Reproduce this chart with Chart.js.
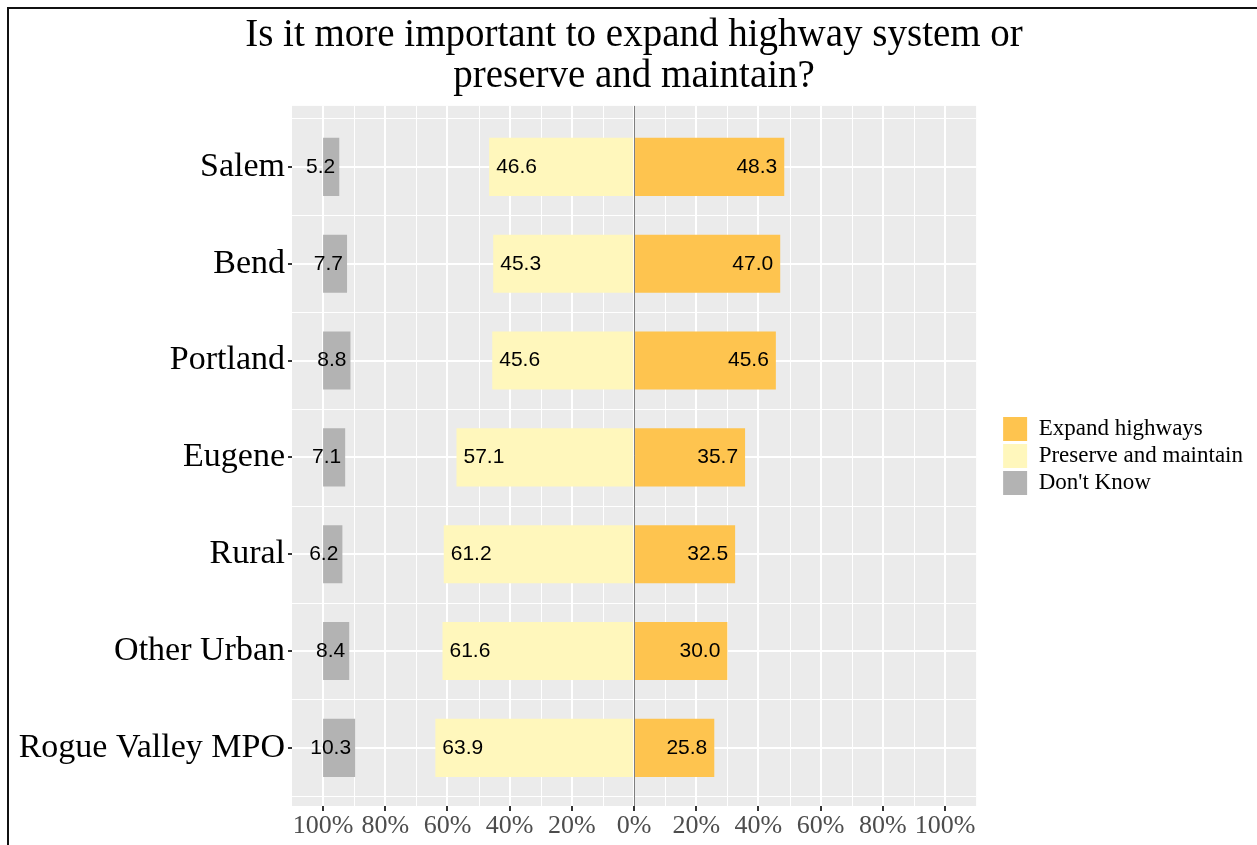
<!DOCTYPE html>
<html>
<head>
<meta charset="utf-8">
<script src="https://cdn.jsdelivr.net/npm/chart.js@4.4.0/dist/chart.umd.min.js"></script>
<style>
  html, body { margin: 0; padding: 0; background: #fff; }
  #wrap { position: relative; width: 1257px; height: 845px; overflow: hidden; }
  #frame { position: absolute; left: 7px; top: 7px; right: -10px; bottom: -10px; border-top: 2px solid #111; border-left: 2px solid #111; pointer-events: none; }
  canvas { position: absolute; left: 0; top: 0; }
</style>
</head>
<body>
<div id="wrap">
  <canvas id="myChart" width="1257" height="845"></canvas>
  <div id="frame"></div>
</div>
<script>
const categories = ["Salem", "Bend", "Portland", "Eugene", "Rural", "Other Urban", "Rogue Valley MPO"];
const expandValues = [48.3, 47.0, 45.6, 35.7, 32.5, 30.0, 25.8];
const preserveValues = [46.6, 45.3, 45.6, 57.1, 61.2, 61.6, 63.9];
const dontKnowValues = [5.2, 7.7, 8.8, 7.1, 6.2, 8.4, 10.3];
const seriesNames = ["Expand highways", "Preserve and maintain", "Don't Know"];
const xTickValues = [-100, -80, -60, -40, -20, 0, 20, 40, 60, 80, 100];

const serif = "'Liberation Serif', 'Times New Roman', serif";

// panel background, minor grid lines, zero line and bar labels
const panelPlugin = {
  id: "panel",
  beforeDraw(chart) {
    const { ctx, chartArea } = chart;
    const xs = chart.scales.x;
    const ys = chart.scales.y;
    ctx.save();
    ctx.fillStyle = "#EBEBEB";
    ctx.fillRect(chartArea.left, chartArea.top, chartArea.right - chartArea.left, chartArea.bottom - chartArea.top);
    ctx.strokeStyle = "#FFFFFF";
    ctx.lineWidth = 1;
    for (let i = 1; i < xTickValues.length; i++) {
      const x = Math.round(xs.getPixelForValue((xTickValues[i - 1] + xTickValues[i]) / 2)) + 0.5;
      ctx.beginPath();
      ctx.moveTo(x, chartArea.top);
      ctx.lineTo(x, chartArea.bottom);
      ctx.stroke();
    }
    for (let k = 0; k <= categories.length; k++) {
      const y = Math.round(ys.getPixelForValue(k - 0.5)) + 0.5;
      ctx.beginPath();
      ctx.moveTo(chartArea.left, y);
      ctx.lineTo(chartArea.right, y);
      ctx.stroke();
    }
    ctx.restore();
  },
  afterDatasetsDraw(chart) {
    const { ctx, chartArea } = chart;
    const x0 = Math.round(chart.scales.x.getPixelForValue(0)) + 0.5;
    ctx.save();
    ctx.strokeStyle = "#7F7F7F";
    ctx.lineWidth = 1;
    ctx.beginPath();
    ctx.moveTo(x0, chartArea.top);
    ctx.lineTo(x0, chartArea.bottom);
    ctx.stroke();

    ctx.font = "21px 'Liberation Sans', Arial, sans-serif";
    ctx.fillStyle = "#000";
    ctx.textBaseline = "middle";
    chart.getDatasetMeta(0).data.forEach((bar, i) => {
      ctx.textAlign = "right";
      ctx.fillText(expandValues[i].toFixed(1), Math.max(bar.x, bar.base) - 7, bar.y);
    });
    chart.getDatasetMeta(1).data.forEach((bar, i) => {
      ctx.textAlign = "left";
      ctx.fillText(preserveValues[i].toFixed(1), Math.min(bar.x, bar.base) + 7, bar.y);
    });
    chart.getDatasetMeta(2).data.forEach((bar, i) => {
      ctx.textAlign = "right";
      ctx.fillText(dontKnowValues[i].toFixed(1), Math.max(bar.x, bar.base) - 4, bar.y);
    });
    ctx.restore();
  }
};

const data = {
  datasets: [
    {
      label: seriesNames[0],
      data: expandValues.map((v, i) => ({ x: v, y: i })),
      backgroundColor: "#FEC44F",
      yAxisID: "y",
    },
    {
      label: seriesNames[1],
      data: preserveValues.map((v, i) => ({ x: -v, y: i })),
      backgroundColor: "#FFF7BC",
      yAxisID: "y",
    },
    {
      label: seriesNames[2],
      data: dontKnowValues.map((v, i) => ({ x: [-100, -100 + v], y: i })),
      backgroundColor: "#B3B3B3",
      yAxisID: "y",
    },
  ],
};

const config = {
  type: "bar",
  data: data,
  plugins: [panelPlugin],
  options: {
    responsive: false,
    animation: false,
    indexAxis: "y",
    layout: { padding: { left: 15, right: 4, top: 0, bottom: 0 } },
    datasets: {
      bar: {
        grouped: false,
        barPercentage: 0.6,
        categoryPercentage: 1,
        borderWidth: 0,
      },
    },
    scales: {
      x: {
        type: "linear",
        min: -110,
        max: 110,
        afterBuildTicks(s) {
          s.ticks = xTickValues.map((v) => ({ value: v }));
        },
        afterFit(s) {
          s.height = 39;
        },
        grid: {
          color: "#FFFFFF",
          lineWidth: 2,
          tickColor: "#333333",
          tickLength: 5,
        },
        border: { display: false },
        ticks: {
          autoSkip: false,
          maxRotation: 0,
          padding: 0,
          color: "#4D4D4D",
          font: { family: serif, size: 26 },
          callback: (v) => Math.abs(v) + "%",
        },
      },
      y: {
        type: "linear",
        reverse: true,
        offset: false,
        min: -0.63,
        max: categories.length - 1 + 0.6,
        afterBuildTicks(s) {
          s.ticks = categories.map((c, i) => ({ value: i }));
        },
        afterFit(s) {
          s.width = 277;
        },
        grid: {
          offset: false,
          color: "#FFFFFF",
          lineWidth: 2,
          tickColor: "#333333",
          tickLength: 4,
        },
        border: { display: false },
        ticks: {
          autoSkip: false,
          padding: 3,
          color: "#000000",
          font: { family: serif, size: 34 },
          callback: (v) => categories[v],
        },
      },
      // hidden spacer between the panel and the legend
      gap: {
        type: "linear",
        position: "right",
        display: false,
        afterFit(s) {
          s.width = 24;
        },
      },
    },
    plugins: {
      title: {
        display: true,
        text: ["Is it more important to expand highway system or", "preserve and maintain?"],
        color: "#000000",
        font: { family: serif, size: 39, weight: "normal", lineHeight: 1.05 },
        padding: { top: 15, bottom: 9 },
      },
      legend: {
        position: "right",
        fullSize: false,
        labels: {
          color: "#000000",
          font: { family: serif, size: 23 },
          boxWidth: 24,
          boxHeight: 24,
          padding: 3,
        },
      },
      tooltip: { enabled: false },
    },
  },
};

const myChart = new Chart(document.getElementById("myChart"), config);
</script>
</body>
</html>
